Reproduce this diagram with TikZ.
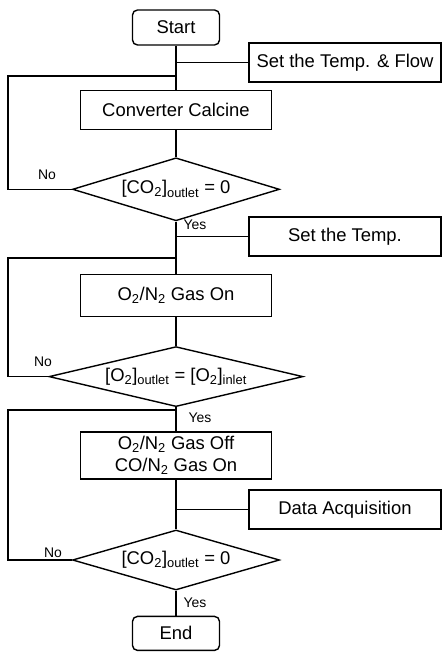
\documentclass[tikz,border=0pt]{standalone}
\usepackage{fontspec}
\setmainfont{Liberation Sans}
\usetikzlibrary{positioning,shapes.geometric}

\begin{document}
\begin{tikzpicture}[x=1bp, y=-1bp, line width=1.4bp,
      font=\fontsize{18.5}{22}\selectfont,
      b/.style={draw, align=center, minimum width=191bp, inner sep=2pt},
      term/.style={draw, rounded corners=5pt, minimum width=87bp, minimum height=35bp},
      side/.style={draw, minimum width=192bp, minimum height=39bp},
      dec/.style={draw, diamond, inner sep=0pt, aspect=3.3, text height=13bp, text depth=4bp},
      lbl/.style={font=\fontsize{14}{16}\selectfont}]
      \useasboundingbox (0,0) rectangle (442,657);
      % main column
      \node[term] (start) at (176,27.5) {Start};
      \node[b, minimum height=39bp, below=44bp of start] (calc) {Converter Calcine};
      \node[dec, minimum width=207bp, minimum height=63bp, below=27bp of calc] (d1)
        {[CO\textsubscript{2}]\textsubscript{outlet} = 0};
      \node[b, minimum height=42bp, below=52bp of d1] (gason) {O\textsubscript{2}/N\textsubscript{2} Gas On};
      \node[dec, aspect=4.2, minimum width=254bp, minimum height=60bp, below=29bp of gason] (d2)
        {[O\textsubscript{2}]\textsubscript{outlet} = [O\textsubscript{2}]\textsubscript{inlet}};
      \node[b, inner ysep=0pt, minimum height=47bp, below=24bp of d2] (swap)
        {O\textsubscript{2}/N\textsubscript{2} Gas Off\\CO/N\textsubscript{2} Gas On};
      \node[dec, minimum width=207bp, minimum height=60bp] (d3) at (176,560)
        {[CO\textsubscript{2}]\textsubscript{outlet} = 0};
      \node[term, minimum height=34bp, below=25bp of d3] (end) {End};
      % side steps
      \node[side] (flow) at (345,62.5) {Set the Temp. \& Flow};
      \node[side] (temp) at (345,236.5) {Set the Temp.};
      \node[side] (daq) at (345,509.5) {Data Acquisition};
      % loop junctions
      \coordinate (lx) at (8,0);
      \coordinate (j1) at (176,76);
      \coordinate (j2) at (176,258);
      \coordinate (j3) at (176,410);
      \draw (start) -- (calc); \draw (calc) -- (d1); \draw (d1) -- (gason);
      \draw (gason) -- (d2); \draw (d2) -- (swap); \draw (swap) -- (d3); \draw (d3) -- (end);
      \draw (flow.west) -- (flow.west -| start.south);
      \draw (temp.west) -- (temp.west -| d1.south);
      \draw (daq.west) -- (daq.west -| swap.south);
      \draw (d1.west) -- (d1.west -| lx) |- (j1);
      \draw (d2.west) -- (d2.west -| lx) |- (j2);
      \draw (d3.west) -- (d3.west -| lx) |- (j3);
      % branch labels
      \node[lbl] (no1) at (47,175) {No};
      \node[lbl] (no2) at (43,362) {No};
      \node[lbl] (no3) at (53,553) {No};
      \node[lbl] (yes1) at (195,225) {Yes};
      \node[lbl] (yes2) at (200,418) {Yes};
      \node[lbl] (yes3) at (195,603) {Yes};
    \end{tikzpicture}
\end{document}
